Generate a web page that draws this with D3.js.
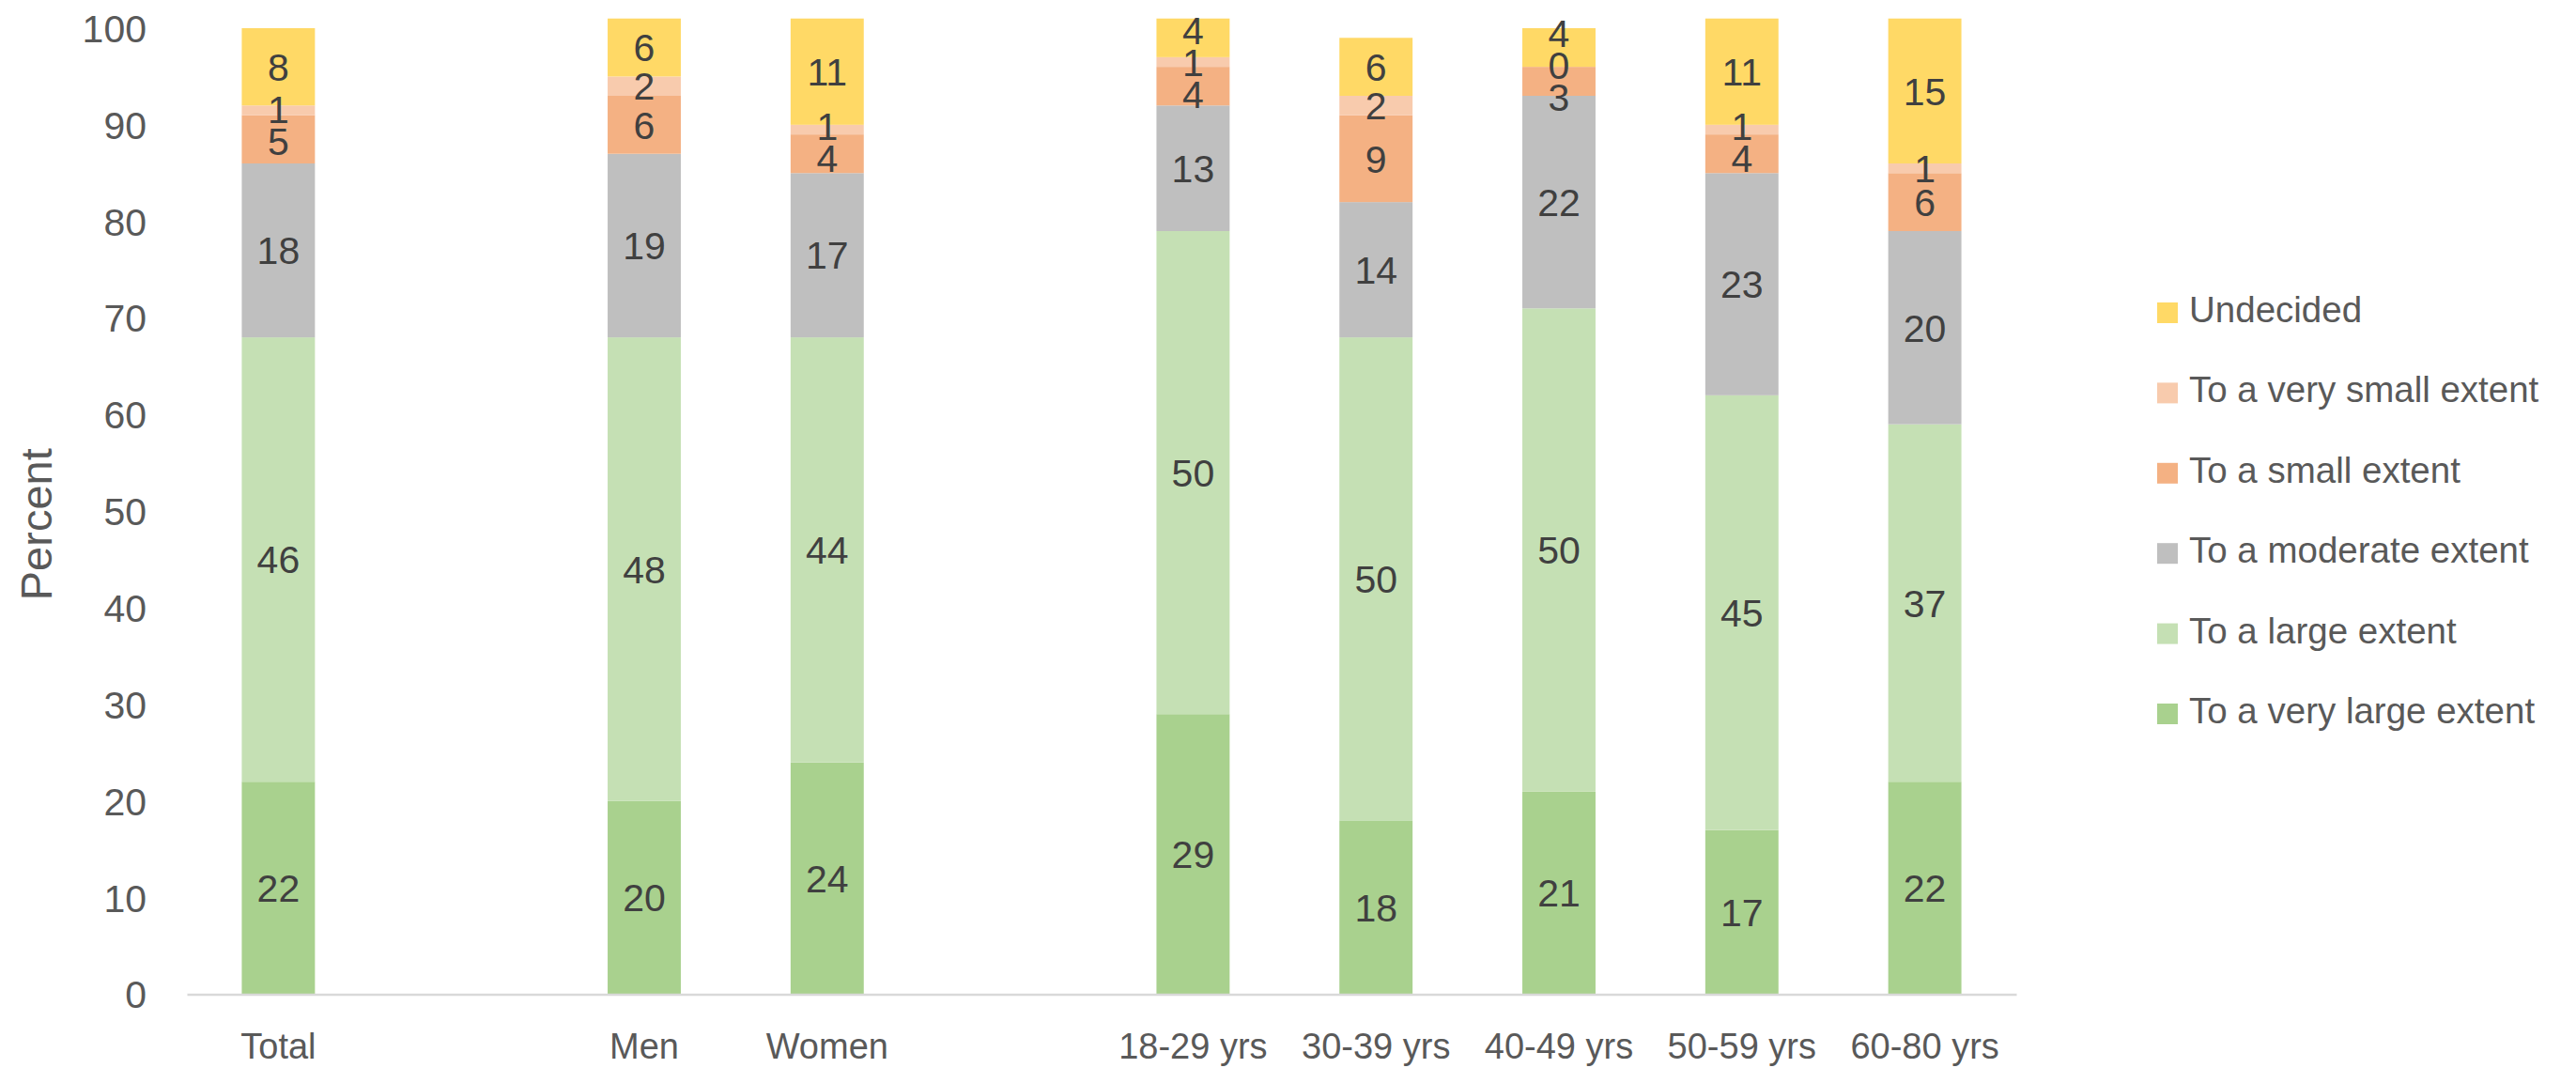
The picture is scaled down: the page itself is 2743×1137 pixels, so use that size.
<!DOCTYPE html>
<html>
<head>
<meta charset="utf-8">
<script src="https://cdn.jsdelivr.net/npm/d3@7"></script>
<style>
  html, body { margin: 0; padding: 0; background: #ffffff; }
  svg { display: block; }
  text { font-family: "Liberation Sans", Arial, sans-serif; }
</style>
</head>
<body>
<svg id="chart" width="2743" height="1137"></svg>
<script>
// Categories along the x axis; blank slots separate the three groups
const categories = ["Total", "Men", "Women", "18-29 yrs", "30-39 yrs", "40-49 yrs", "50-59 yrs", "60-80 yrs"];
const slots = ["Total", "gap-1", "Men", "Women", "gap-2", "18-29 yrs", "30-39 yrs", "40-49 yrs", "50-59 yrs", "60-80 yrs"];

// Series, stacked from the bottom up (percent)
const seriesNames = ["To a very large extent", "To a large extent", "To a moderate extent",
                     "To a small extent", "To a very small extent", "Undecided"];
const veryLarge  = [22, 20, 24, 29, 18, 21, 17, 22];
const large      = [46, 48, 44, 50, 50, 50, 45, 37];
const moderate   = [18, 19, 17, 13, 14, 22, 23, 20];
const small      = [5, 6, 4, 4, 9, 3, 4, 6];
const verySmall  = [1, 2, 1, 1, 2, 0, 1, 1];
const undecided  = [8, 6, 11, 4, 6, 4, 11, 15];

const seriesColors = ["#A9D18E", "#C5E0B4", "#BFBFBF", "#F4B183", "#F8CBAD", "#FFD966"];
const yTicks = [0, 10, 20, 30, 40, 50, 60, 70, 80, 90, 100];

const seriesValues = [veryLarge, large, moderate, small, verySmall, undecided];
const rows = categories.map((c, i) => {
  const r = { category: c };
  seriesNames.forEach((s, k) => { r[s] = seriesValues[k][i]; });
  return r;
});
const stacked = d3.stack().keys(seriesNames)(rows);

const svg = d3.select("#chart");
const plot = { left: 199, right: 2147, top: 30, bottom: 1058.5 };

const x = d3.scaleBand()
  .domain(slots)
  .range([plot.left, plot.right])
  .paddingInner(0.6)
  .paddingOuter(0.3);

const y = d3.scaleLinear()
  .domain([0, 100])
  .range([plot.bottom, plot.top]);

const color = d3.scaleOrdinal().domain(seriesNames).range(seriesColors);

// Stacked bars
const layers = svg.append("g").selectAll("g")
  .data(stacked)
  .join("g")
  .attr("fill", d => color(d.key));

layers.selectAll("rect")
  .data(d => d)
  .join("rect")
  .attr("x", d => x(d.data.category))
  .attr("width", x.bandwidth())
  .attr("y", d => y(d[1]))
  .attr("height", d => y(d[0]) - y(d[1]));

// Category axis
const xAxis = svg.append("g")
  .attr("transform", `translate(0,${plot.bottom})`)
  .call(d3.axisBottom(x).tickValues(categories).tickSize(0).tickPadding(0));
xAxis.select(".domain").attr("stroke", "#d9d9d9").attr("stroke-width", 2.5);
xAxis.selectAll("text")
  .attr("y", 68.5)
  .attr("dy", null)
  .attr("fill", "#595959")
  .style("font-size", "38px")
  .style("font-family", "'Liberation Sans', Arial, sans-serif");

// Value axis: labels only
const yAxis = svg.append("g")
  .attr("transform", "translate(156,0)")
  .call(d3.axisLeft(y).tickValues(yTicks).tickSize(0).tickPadding(0));
yAxis.select(".domain").remove();
yAxis.selectAll("text")
  .attr("x", 0)
  .attr("dy", "0.35em")
  .attr("fill", "#595959")
  .style("font-size", "41px")
  .style("font-family", "'Liberation Sans', Arial, sans-serif");

// Axis title
svg.append("text")
  .attr("transform", `translate(55,${(y(0) + y(100)) / 2 + 14}) rotate(-90)`)
  .attr("text-anchor", "middle")
  .attr("fill", "#595959")
  .style("font-size", "47px")
  .text("Percent");

// Data labels: start at each segment's centre, then spread crowded
// labels within a bar so neighbours keep a minimum vertical gap
const labelGap = 34;
const labels = [];
stacked.forEach(layer => {
  layer.forEach(v => {
    labels.push({
      category: v.data.category,
      value: v.data[layer.key],
      y0: y((v[0] + v[1]) / 2)
    });
  });
});
categories.forEach(cat => {
  const items = labels.filter(l => l.category === cat).sort((a, b) => a.y0 - b.y0);
  let clusters = items.map(l => ({ members: [l] }));
  const place = c => {
    const mean = d3.mean(c.members, m => m.y0);
    const n = c.members.length;
    c.members.forEach((m, i) => { m.y = mean + (i - (n - 1) / 2) * labelGap; });
  };
  clusters.forEach(place);
  let merged = true;
  while (merged) {
    merged = false;
    for (let i = 0; i < clusters.length - 1; i++) {
      const a = clusters[i], b = clusters[i + 1];
      const aLast = a.members[a.members.length - 1].y;
      const bFirst = b.members[0].y;
      if (bFirst - aLast < labelGap) {
        const c = { members: a.members.concat(b.members) };
        place(c);
        clusters.splice(i, 2, c);
        merged = true;
        break;
      }
    }
  }
});

svg.append("g").selectAll("text")
  .data(labels)
  .join("text")
  .attr("x", d => x(d.category) + x.bandwidth() / 2)
  .attr("y", d => d.y)
  .attr("dy", "0.36em")
  .attr("text-anchor", "middle")
  .attr("fill", "#404040")
  .style("font-size", "41px")
  .text(d => d.value);

// Legend, top to bottom in reverse stacking order
const legendRows = seriesNames.slice().reverse();
const legendY = d3.scalePoint().domain(legendRows).range([333, 760]);
const legend = svg.append("g");
const item = legend.selectAll("g")
  .data(legendRows)
  .join("g")
  .attr("transform", d => `translate(2297,${legendY(d)})`);
item.append("rect")
  .attr("x", 0).attr("y", -11)
  .attr("width", 22).attr("height", 22)
  .attr("fill", d => color(d));
item.append("text")
  .attr("x", 34)
  .attr("y", 10)
  .attr("fill", "#595959")
  .style("font-size", "38.5px")
  .text(d => d);
</script>
</body>
</html>
